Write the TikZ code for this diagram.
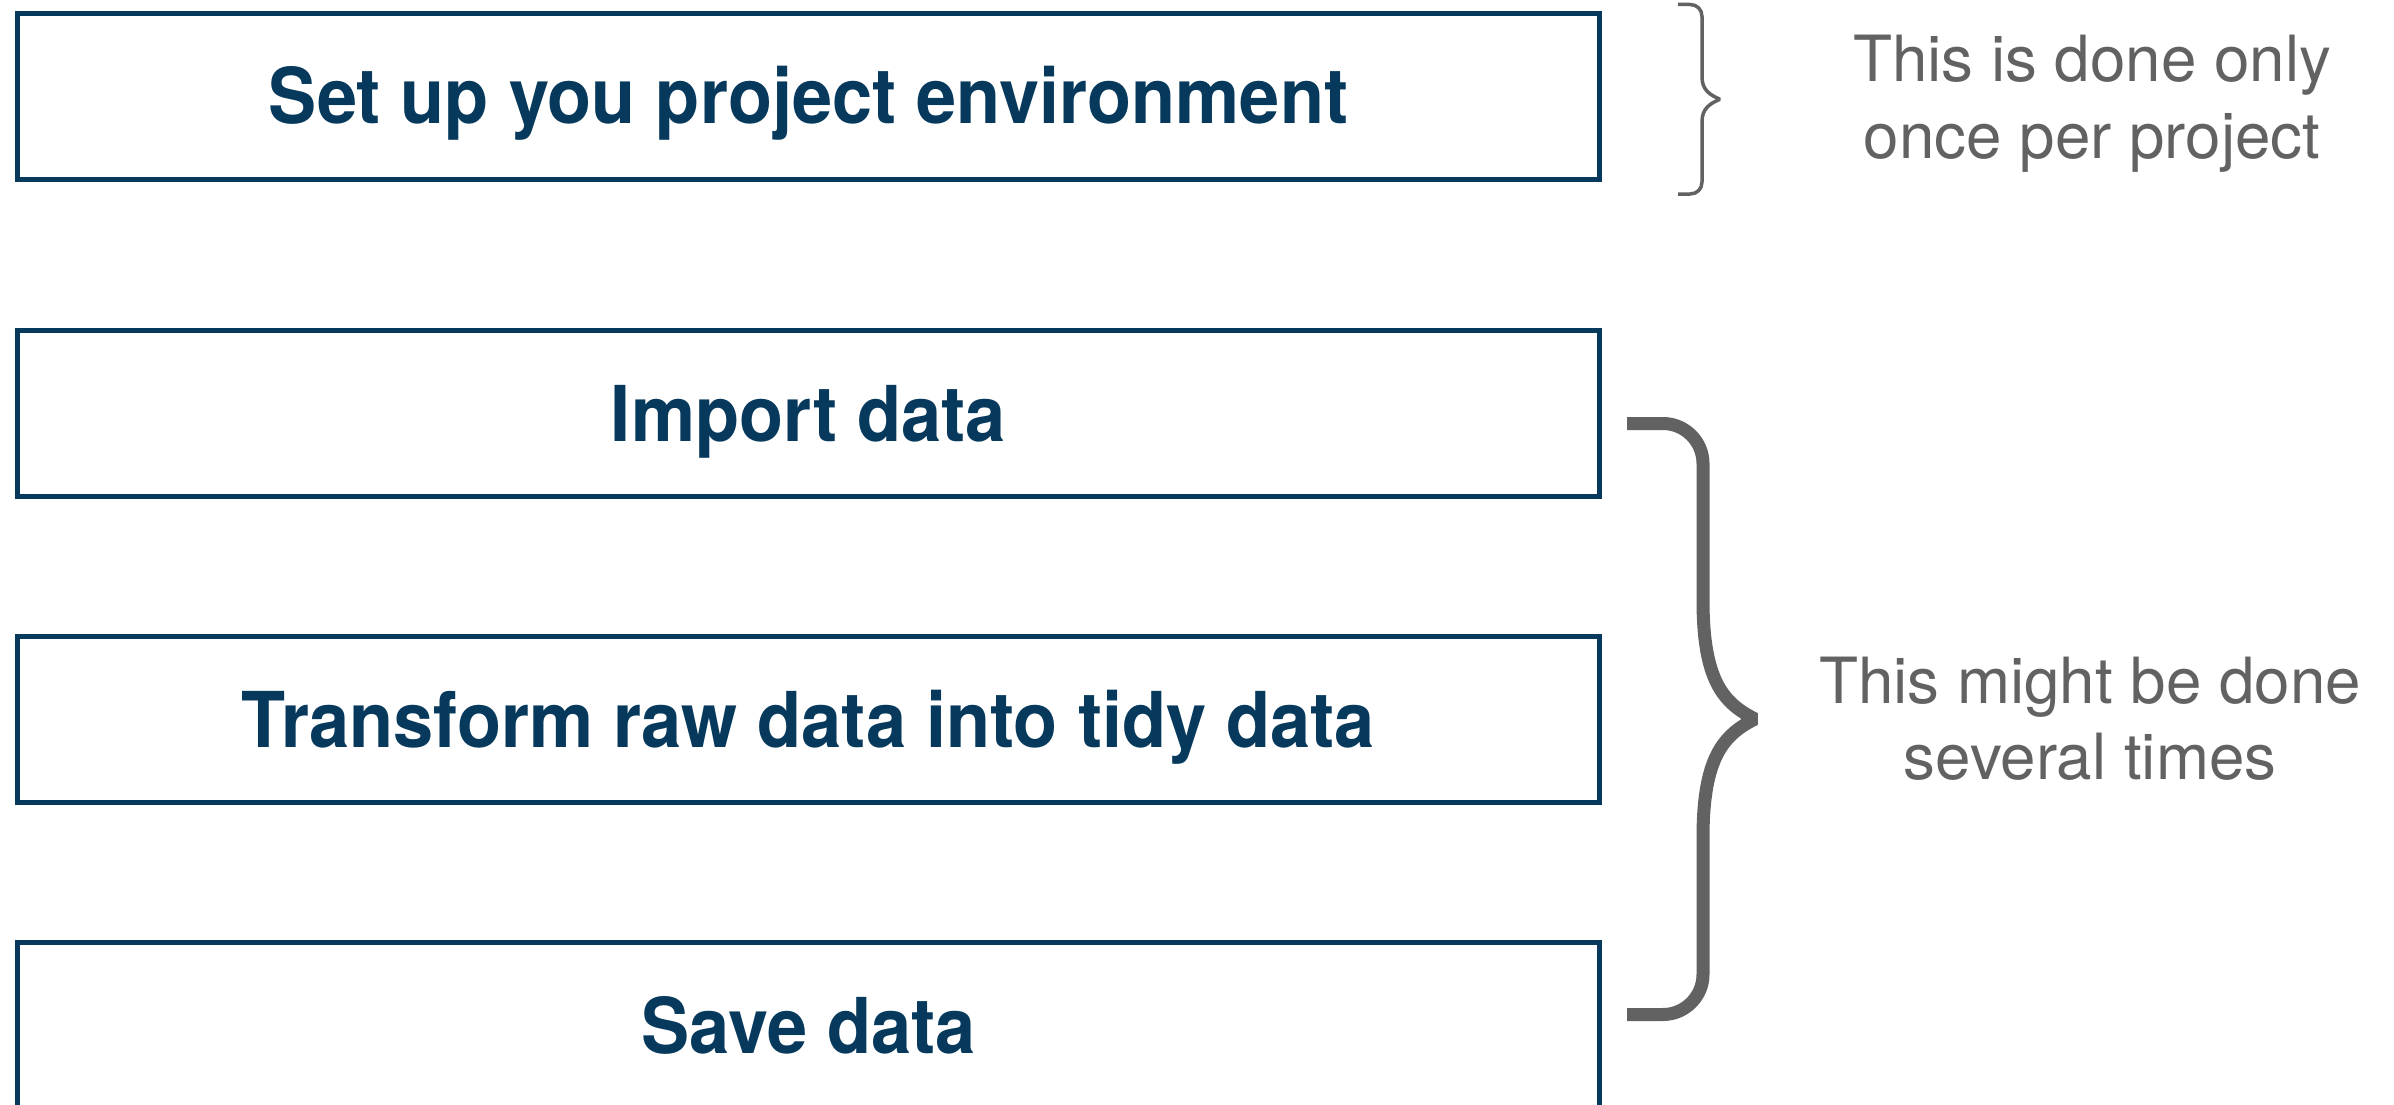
\documentclass[tikz,border=0pt]{standalone}
\usepackage{fontspec}
\setmainfont{TeX Gyre Heros}
\newfontfamily\boxfont[FakeStretch=0.937]{TeX Gyre Heros}
\definecolor{boxblue}{RGB}{6,57,92}
\definecolor{bracegray}{RGB}{98,98,98}
\begin{document}
\begin{tikzpicture}[x=1pt,y=-1pt,
  stepbox/.style={draw=boxblue, line width=5pt, minimum width=1582pt, minimum height=166pt,
    inner sep=0pt, outer sep=0pt, text=boxblue,
    font=\boxfont\bfseries\fontsize{77}{80}\selectfont, text height=55pt, text depth=0pt},
  note/.style={text=bracegray, font=\fontsize{63.7}{66}\selectfont, inner sep=0pt, anchor=base},
  brace/.style={draw=bracegray, line join=bevel}]
\useasboundingbox (0,0) rectangle (2394,1105);
\clip (0,0) rectangle (2394,1105);
\fill[white] (0,0) rectangle (2394,1105);
\node[stepbox] (b1) at (808.5,96.5) {Set up you project environment};
\node[stepbox] (b2) at (808.5,413.6) {Import data};
\node[stepbox] (b3) at (808.5,719.9) {Transform raw data into tidy data};
\node[stepbox] (b4) at (808.5,1025.5) {Save data};
\node[note] (n1a) at (2092,81.7) {This is done only};
\node[note] (n1b) at (2092,158) {once per project};
\node[note] (n2a) at (2090,703) {This might be done};
\node[note] (n2b) at (2090,779.5) {several times};
\draw[brace, line width=3.5pt] (1678,4.5) -- (1690,4.5)
  .. controls (1697,4.5) and (1702,9.5) .. (1702,16.5) -- (1702,77)
  .. controls (1702,90) and (1710,95) .. (1720,99.25)
  .. controls (1710,103.5) and (1702,108.5) .. (1702,121.5) -- (1702,182)
  .. controls (1702,189) and (1697,194) .. (1690,194) -- (1678,194);
\draw[brace, line width=13pt] (1627,423.5) -- (1663,423.5)
  .. controls (1685,423.5) and (1703,441.5) .. (1703,463.5) -- (1703,600)
  .. controls (1703,680) and (1723,703) .. (1755,719)
  .. controls (1723,735) and (1703,758) .. (1703,838) -- (1703,974.5)
  .. controls (1703,996.5) and (1685,1014.5) .. (1663,1014.5) -- (1627,1014.5);
\end{tikzpicture}
\end{document}
